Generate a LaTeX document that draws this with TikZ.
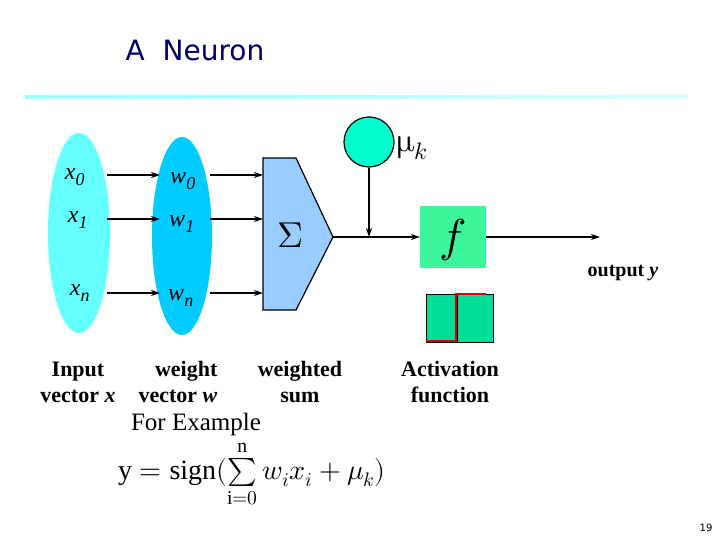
\documentclass[tikz,border=0pt]{standalone}
\usepackage{fontspec}
\usepackage{unicode-math}
\setmainfont{Liberation Serif}
\setmathfont{Latin Modern Math}
\newfontfamily\titlef{DejaVu Sans}
\usetikzlibrary{arrows.meta,shapes.geometric}
\begin{document}
\begin{tikzpicture}[x=1pt,y=-1pt,
  arr/.style={-{Stealth[length=9pt,width=6pt]},line width=1.2pt},
  lab/.style={font=\fontsize{22}{26}\selectfont\bfseries,align=center},
  var/.style={font=\fontsize{24}{26}\selectfont\itshape}]
\useasboundingbox (0,0) rectangle (720,540);
\node[font=\titlef\fontsize{28}{30}\selectfont,text=blue!40!black] (title) at (195,50) {A\ \ Neuron};
\shade[left color=cyan!40,right color=cyan!15] (25,95.5) rectangle (688,99);
\node[ellipse,draw=none,fill={rgb,255:red,102;green,255;blue,255},minimum width=62,minimum height=200] (ex) at (79,233) {};
\node[ellipse,draw=none,fill={rgb,255:red,0;green,204;blue,255},minimum width=60,minimum height=198] (ew) at (182,236) {};
\node[var] (x0) at (75,177) {x\textsubscript{\fontsize{18}{18}\selectfont 0}};
\node[var] (x1) at (78,220) {x\textsubscript{\fontsize{18}{18}\selectfont 1}};
\node[var] (xn) at (80,293) {x\textsubscript{\fontsize{18}{18}\selectfont n}};
\node[var] (w0) at (183,181) {w\textsubscript{\fontsize{18}{18}\selectfont 0}};
\node[var] (w1) at (182,224) {w\textsubscript{\fontsize{18}{18}\selectfont 1}};
\node[var] (wn) at (181,298) {w\textsubscript{\fontsize{18}{18}\selectfont n}};
\coordinate (a0) at (107,175); \coordinate (b0) at (160,175);
\coordinate (a1) at (107,219); \coordinate (b1) at (160,219);
\coordinate (an) at (107,293); \coordinate (bn) at (160,293);
\coordinate (c0) at (210,175); \coordinate (d0) at (263,175);
\coordinate (c1) at (210,219); \coordinate (d1) at (263,219);
\coordinate (cn) at (210,293); \coordinate (dn) at (263,293);
\foreach \i in {0,1,n}{\draw[arr] (a\i)--(b\i); \draw[arr] (c\i)--(d\i);}
\draw[fill={rgb,255:red,153;green,204;blue,255},line width=1.2pt] (263,158)--(296,158)--(333,237)--(296,310)--(263,310)--cycle;
\coordinate (tip) at (333,237);
\node[font=\fontsize{36}{38}\selectfont] (sig) at (290,235) {$\Sigma$};
\node[circle,draw,line width=1.2pt,fill={rgb,255:red,0;green,255;blue,204},minimum size=50] (mu) at (369,142) {};
\node[font=\fontsize{34}{36}\selectfont,anchor=west] (mul) at (393,148) {$\symup{\mu}_{k}$};
\node[fill={rgb,255:red,60;green,245;blue,154},minimum width=66,minimum height=62] (f) at (453,237) {};
\node[font=\fontsize{46}{48}\selectfont] (fl) at (453,240) {$f$};
\coordinate (j) at (369,237);
\draw[line width=1.2pt] (tip)--(j);
\draw[arr] (j)--(f.west);
\draw[arr] (mu.south)--(j);
\coordinate (out) at (600,237);
\draw[arr] (f.east)--(out);
\node[font=\fontsize{20}{22}\selectfont\bfseries] (oy) at (623,273) {output \textit{y}};
\draw[fill={rgb,255:red,0;green,221;blue,153},line width=0.8pt] (426,294) rectangle (457,342);
\draw[fill={rgb,255:red,0;green,221;blue,153},line width=0.8pt] (457,294) rectangle (493,342);
\draw[red!85!black,line width=2.5pt] (426,341)--(456,341)--(456,294)--(486,294);
\node[lab] (l1) at (78,382) {Input\\vector \textit{x}};
\node[lab] (l2) at (178,382) {\ \ \ weight\\vector \textit{w}};
\node[lab] (l3) at (300,382) {weighted\\sum};
\node[lab] (l4) at (450,382) {Activation\\function};
\node[font=\fontsize{25}{27}\selectfont] (fe) at (196,424) {For Example};
\node[font=\fontsize{28}{30}\selectfont] (eq) at (252,474) {$\mathrm{y}=\mathrm{sign}(\sum\limits_{\mathrm{i}=0}^{\mathrm{n}} w_i x_i+\mu_k)$};
\node[font=\titlef\fontsize{10}{12}\selectfont] (pg) at (706,528) {19};
\end{tikzpicture}
\end{document}
